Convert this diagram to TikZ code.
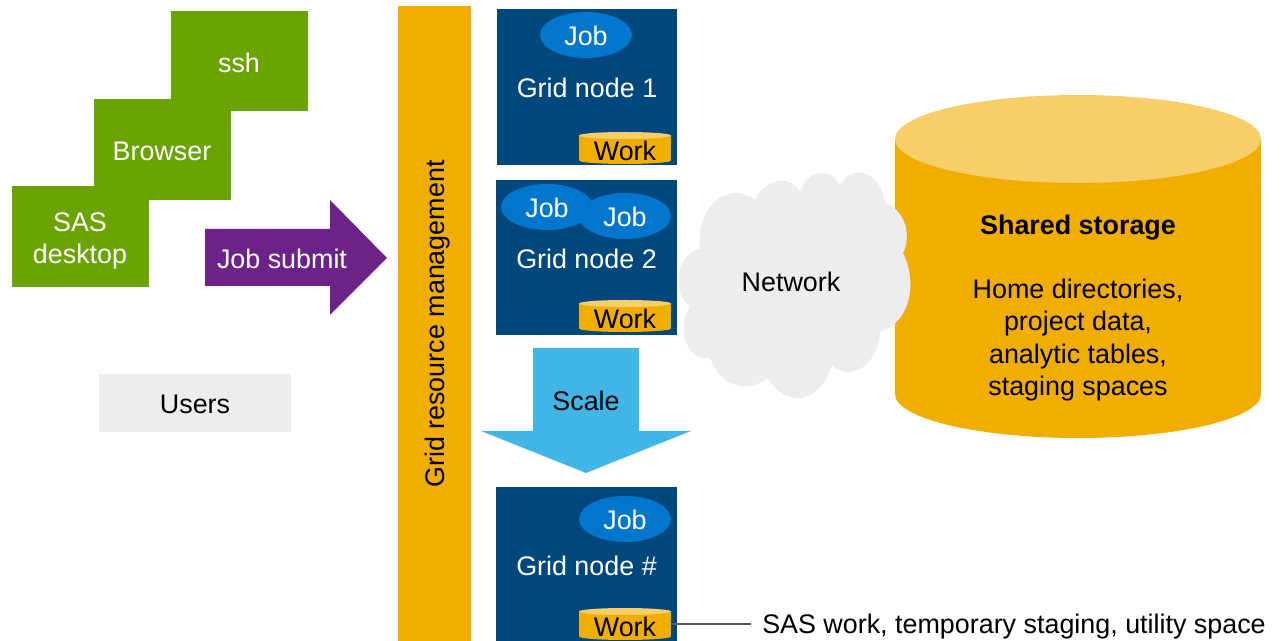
\documentclass[tikz,border=0pt]{standalone}
\usepackage{fontspec}
\setmainfont{Liberation Sans}
\definecolor{usergreen}{HTML}{6BA300}
\definecolor{gridblue}{HTML}{00477E}
\definecolor{jobblue}{HTML}{0077CC}
\definecolor{diskorange}{HTML}{F2AE00}
\definecolor{disktop}{HTML}{F8CE68}
\definecolor{submitpurple}{HTML}{6C2289}
\definecolor{scaleblue}{HTML}{41B6E6}
\definecolor{palegray}{HTML}{EDEDED}
\usetikzlibrary{shapes.geometric}
\tikzset{
	txt/.style={font=\fontsize{15.3}{18.3}\selectfont},
	oneline/.style={txt,text height=11pt,text depth=0pt},
	userbox/.style={fill=usergreen,minimum width=2.74cm,minimum height=2.02cm,inner sep=0pt},
	gridnode/.style={txt,fill=gridblue,text=white,minimum width=3.62cm,minimum height=3.12cm,inner sep=0pt,text height=12.5pt,text depth=0pt},
	jobnode/.style={txt,text height=12pt,text depth=0pt,ellipse,fill=jobblue,text=white,minimum width=1.84cm,minimum height=.92cm,inner sep=0pt},
	workdisk/.style={txt,text height=14.4pt,text depth=0pt,minimum width=1.84cm,inner sep=0pt},
}
\begin{document}
\begin{tikzpicture}[x=.02cm,y=-.02cm]
	\useasboundingbox (0,0) rectangle (1282,641);
	% users
	\node (ssh) at (239.5,61) [userbox] {};
	\node (browser) at (162.5,149.5) [userbox] {};
	\node (desktop) at (80.5,236.5) [userbox] {};
	\node (sshtxt) at (239,63) [oneline,text=white] {ssh};
	\node (browsertxt) at (162,151) [oneline,text=white] {Browser};
	\node (desktoptxt) at (80,241) [txt,text=white,align=center] {SAS\\desktop};
	\node (users) at (195,403) [txt,text height=12pt,text depth=0pt,fill=palegray,minimum width=3.84cm,minimum height=1.16cm,inner sep=0pt] {Users};
	\fill [submitpurple] (205,229)--(330,229)--(330,200)--(387,258)--(330,315)--(330,286)--(205,286)--cycle;
	\node (submit) at (282,259) [oneline,text=white] {Job submit};
	% grid
	\fill [diskorange] (398,6) rectangle (471,641);
	\node (manager) at (435,324) [oneline,rotate=90] {Grid resource management};
	\node (gn1) at (587,87) [gridnode] {Grid node 1};
	\node (gn2) at (586.5,257.5) [gridnode] {Grid node 2};
	\node (gn3) at (586.5,565) [gridnode] {Grid node \#};
	\node (job1) at (586,35) [jobnode] {Job};
	\node (job2a) at (547,207) [jobnode] {Job};
	\node (job2b) at (625,216) [jobnode] {Job};
	\node (job3) at (625,519) [jobnode] {Job};
	\foreach \wy in {132,300,608}{
		\fill [diskorange] (579,\wy+3.5) -- (579,\wy+28.5) arc (180:360:.92cm and .07cm) -- (671,\wy+3.5) -- cycle;
		\fill [disktop] (625,\wy+3.5) ellipse (.92cm and .07cm);
	}
	\node (work1) at (625,148) [workdisk] {Work};
	\node (work2) at (625,316) [workdisk] {Work};
	\node (work3) at (625,624) [workdisk] {Work};
	\fill [scaleblue] (533,348)--(639,348)--(639,431)--(691,431)--(586,473)--(481,431)--(533,431)--cycle;
	\node (scale) at (586,401) [oneline] {Scale};
	\node (note) at (751,624) [oneline,right,inner sep=6.2pt] {SAS work, temporary staging, utility space};
	\draw [black!65,line width=.7pt](work3.east)--(note.west);
	% storage
	\fill [diskorange] (895,139) -- (895,394) arc (180:360:3.66cm and .88cm) -- (1261,139) -- cycle;
	\fill [disktop] (1078,139) ellipse (3.66cm and .88cm);
	\node (shared) at (1078,225) [oneline] {\textbf{Shared storage}};
	\node (content) at (1078,340) [txt,align=center] {Home directories,\\project data,\\analytic tables,\\staging spaces};
	% network
	\fill [palegray] (755,200) .. controls (764,181) and (788,172) .. (800,192)
		.. controls (808,168) and (832,168) .. (840,185)
		.. controls (850,165) and (880,168) .. (885,203)
		.. controls (905,210) and (912,235) .. (903,253)
		.. controls (917,280) and (912,322) .. (880,332)
		.. controls (878,366) and (850,382) .. (832,365)
		.. controls (820,405) and (785,408) .. (768,378)
		.. controls (745,395) and (720,385) .. (710,358)
		.. controls (688,362) and (675,330) .. (690,306)
		.. controls (672,295) and (674,255) .. (700,249)
		.. controls (695,205) and (730,180) .. (755,200) -- cycle;
	\node (network) at (791,282) [oneline] {Network};
\end{tikzpicture}
\end{document}
